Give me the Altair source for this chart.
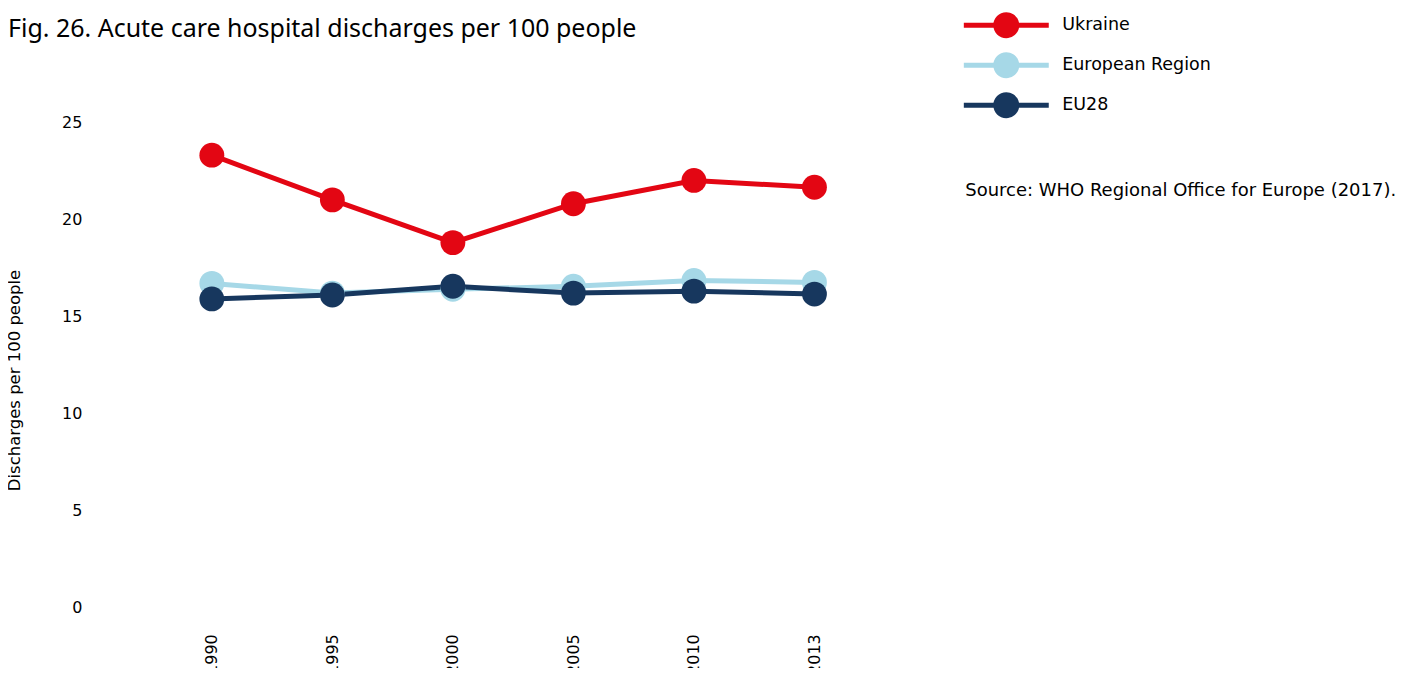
import altair as alt
import pandas as pd

years = ["1990", "1995", "2000", "2005", "2010", "2013"]
series = ["Ukraine", "European Region", "EU28"]
ukraine = [23.3, 21.0, 18.8, 20.8, 22.0, 21.65]
european_region = [16.7, 16.2, 16.4, 16.55, 16.85, 16.75]
eu28 = [15.9, 16.1, 16.55, 16.2, 16.3, 16.15]
colors = ["#E30613", "#A6D8E7", "#17375E"]

title_text = "Fig. 26. Acute care hospital discharges per 100 people"
source_text = "Source: WHO Regional Office for Europe (2017)."
y_title = "Discharges per 100 people"

rows = []
for name, vals in zip(series, [ukraine, european_region, eu28]):
    for yr, v in zip(years, vals):
        rows.append({"year": yr, "series": name, "value": v, "order": series.index(name)})
df = pd.DataFrame(rows)

FONT = "DejaVu Sans"
TFONT = "Noto Sans"

color_scale = alt.Scale(domain=series, range=colors)
x_enc = alt.X("year:O", sort=years, scale=alt.Scale(type="point", padding=0.97),
              axis=alt.Axis(title=None, labelAngle=270, labelFontSize=16, labelColor="#000000",
                            labelPadding=26, ticks=False, domain=False, grid=False,
                            labelFont=FONT, labelAlign="right", labelBaseline="middle"))
y_enc = alt.Y("value:Q", scale=alt.Scale(domain=[0, 25], nice=False, zero=True),
              axis=alt.Axis(title=y_title, values=[0, 5, 10, 15, 20, 25], labelFontSize=16,
                            labelColor="#000000", labelPadding=13, ticks=False, domain=False,
                            grid=False, labelFont=FONT, titleFont=FONT, titleFontSize=16.5,
                            titleFontWeight="normal", titleColor="#000000",
                            titleX=-80, titleY=258, titleAngle=270,
                            titleAlign="center", titleBaseline="middle"))

legend_path = ("M-4.25,-0.25 L-1.2,-0.25 L-1.2,0.25 L-4.25,0.25 Z "
               "M1.2,-0.25 L4.25,-0.25 L4.25,0.25 L1.2,0.25 Z "
               "M1.3,0 A1.3,1.3 0 1,1 -1.3,0 A1.3,1.3 0 1,1 1.3,0 Z")

base = alt.Chart(df)
lines = base.mark_line(strokeWidth=5).encode(
    x=x_enc, y=y_enc,
    color=alt.Color("series:N", scale=color_scale, legend=None),
    detail="series:N",
    order=alt.Order("order:Q"),
)
points = base.mark_point(filled=True, size=620, opacity=1).encode(
    x=x_enc, y=y_enc,
    color=alt.Color("series:N", scale=color_scale, sort=series,
                    legend=alt.Legend(title=None, orient="none", legendX=902, legendY=-107,
                                      symbolType=legend_path, symbolSize=400,
                                      symbolStrokeWidth=0, labelFontSize=17.5, labelFont=FONT,
                                      labelColor="#000000", labelOffset=46, rowPadding=14,
                                      symbolOpacity=1)),
)
source = alt.Chart(pd.DataFrame({"t": [source_text]})).mark_text(
    align="left", baseline="alphabetic", fontSize=18, font=FONT, color="#000000"
).encode(x=alt.value(871), y=alt.value(74), text="t:N")
title = alt.Chart(pd.DataFrame({"t": [title_text]})).mark_text(
    align="left", baseline="alphabetic", fontSize=25, font=TFONT, color="#000000"
).encode(x=alt.value(-87), y=alt.value(-85), text="t:N")

chart = alt.layer(lines, points, source, title).resolve_legend(color="independent").properties(
    width=837, height=486,
    autosize=alt.AutoSizeParams(type="none"),
    padding={"left": 87, "top": 114, "right": 480, "bottom": 60},
).configure_view(stroke=None)

chart.save("out.html", embed_options={"renderer": "svg", "actions": False})
